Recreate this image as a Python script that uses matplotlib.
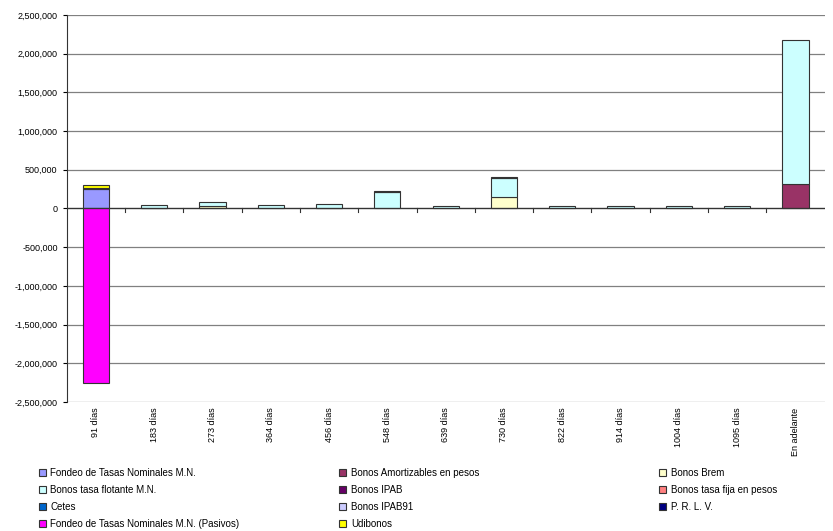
import numpy as np
import matplotlib
matplotlib.use('Agg')
import matplotlib.pyplot as plt
from matplotlib.patches import Patch
from matplotlib.ticker import FuncFormatter

plt.rcParams['font.family'] = ['Liberation Sans', 'DejaVu Sans']

#categories on the x axis
plazos = ['91 días', '183 días', '273 días', '364 días', '456 días', '548 días',
          '639 días', '730 días', '822 días', '914 días', '1004 días', '1095 días',
          'En adelante']

#series values
fondeo_mn = [255000, 0, 0, 0, 0, 0, 0, 0, 0, 0, 0, 0, 0]
bonos_amort = [0, 5000, 0, 0, 5000, 0, 0, 0, 0, 0, 0, 0, 320000]
bonos_brem = [0, 0, 30000, 0, 0, 0, 0, 145000, 0, 0, 0, 0, 0]
bonos_flot = [0, 40000, 48000, 50000, 50000, 215000, 35000, 250000, 35000, 35000, 35000, 35000, 1850000]
bonos_ipab = [0, 0, 0, 0, 0, 5000, 0, 5000, 0, 0, 0, 0, 0]
bonos_fija = [0, 0, 0, 0, 0, 0, 0, 0, 0, 0, 0, 0, 0]
cetes = [0, 0, 0, 0, 0, 0, 0, 0, 0, 0, 0, 0, 0]
bonos_ipab91 = [0, 0, 0, 0, 0, 0, 0, 0, 0, 0, 0, 0, 0]
prlv = [8000, 0, 0, 0, 0, 0, 0, 0, 0, 0, 0, 0, 0]
fondeo_pasivos = [-2250000, 0, 0, 0, 0, 0, 0, 0, 0, 0, 0, 0, 0]
udibonos = [45000, 0, 0, 0, 0, 0, 0, 0, 0, 0, 0, 0, 0]

series = [
    ('Fondeo de Tasas Nominales M.N.', fondeo_mn, '#9999FF'),
    ('Bonos Amortizables en pesos', bonos_amort, '#993366'),
    ('Bonos Brem', bonos_brem, '#FFFFCC'),
    ('Bonos tasa flotante M.N.', bonos_flot, '#CCFFFF'),
    ('Bonos IPAB', bonos_ipab, '#660066'),
    ('Bonos tasa fija en pesos', bonos_fija, '#FF8080'),
    ('Cetes', cetes, '#0066CC'),
    ('Bonos IPAB91', bonos_ipab91, '#CCCCFF'),
    ('P. R. L. V.', prlv, '#000080'),
    ('Fondeo de Tasas Nominales M.N. (Pasivos)', fondeo_pasivos, '#FF00FF'),
    ('Udibonos', udibonos, '#FFFF00'),
]

fig = plt.figure(figsize=(8.33, 5.31), dpi=100)
ax = fig.add_axes([0.080, 0.243, 0.910, 0.729])

x = np.arange(len(plazos))
pos_base = np.zeros(len(plazos))
neg_base = np.zeros(len(plazos))
for name, vals, col in series:
    v = np.array(vals, dtype=float)
    bottom = np.where(v >= 0, pos_base, neg_base)
    nz = v != 0
    # only draw segments that have a value, zero ones would leave an edge line
    if nz.any():
        ax.bar(x[nz], v[nz], 0.45, bottom=bottom[nz], color=col,
               edgecolor='#333333', linewidth=0.8, zorder=3)
    pos_base += np.where(v > 0, v, 0)
    neg_base += np.where(v < 0, v, 0)

ax.set_xlim(-0.5, len(plazos) - 0.5)
ax.set_ylim(-2500000, 2500000)
ax.set_yticks(np.arange(-2500000, 2500001, 500000))
ax.yaxis.set_major_formatter(FuncFormatter(lambda v, p: '{:,.0f}'.format(v)))
ax.yaxis.grid(True, color='#808080', linewidth=0.9, zorder=0)
ax.tick_params(axis='y', labelsize=6.5, length=3, width=0.8)

for s in ['top', 'right', 'bottom']:
    ax.spines[s].set_visible(False)
ax.spines['left'].set_color('#333333')
ax.axhline(0, color='#333333', linewidth=0.9, zorder=4)

# category labels under the plot, ticks on the zero line
ax.set_xticks(x)
ax.set_xticklabels(plazos, rotation=90, fontsize=6.5)
ax.tick_params(axis='x', length=0, pad=4)
for b in np.arange(0.5, len(plazos) - 0.5, 1):
    ax.plot([b, b], [0, -40000], color='#333333', linewidth=0.8, zorder=4)

# legend in three equal columns, filled row by row
col_x = [0.036, 0.397, 0.781]
for c in range(3):
    idx = list(range(c, len(series), 3))
    hs = [Patch(facecolor=series[i][2], edgecolor='#333333', linewidth=0.8) for i in idx]
    lg = fig.legend(hs, [series[i][0] for i in idx], loc='upper left',
                    bbox_to_anchor=(col_x[c], 0.135), frameon=False, fontsize=7,
                    handlelength=0.7, handleheight=0.7, handletextpad=0.5,
                    labelspacing=0.72)

fig.savefig('out.png', dpi=100)
